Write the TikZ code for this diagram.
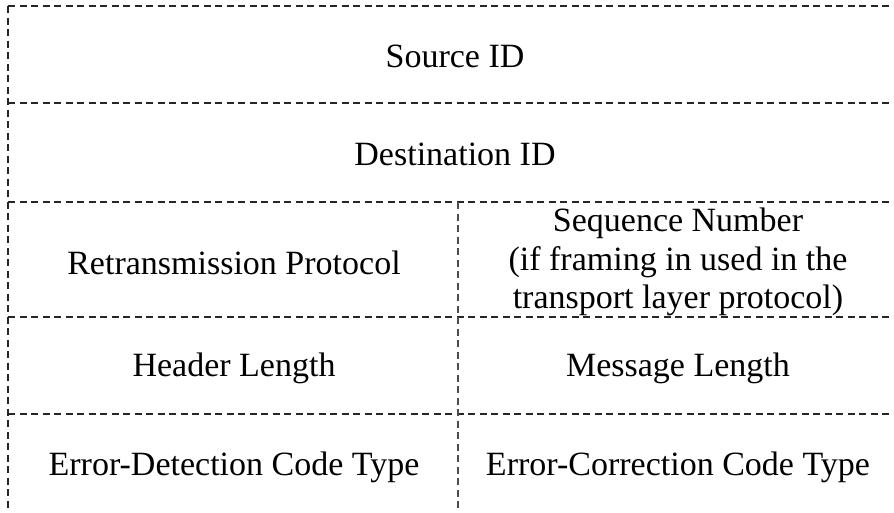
\documentclass[tikz,border=0pt]{standalone}
\usepackage{fontspec}
\setmainfont{Liberation Serif}
\begin{document}
\begin{tikzpicture}[x=1pt,y=-1pt,
  grid/.style={draw=black!85,line width=1.2pt,dash pattern=on 7pt off 4.5pt},
  field/.style={font=\fontsize{34}{38.5}\selectfont,align=center,inner sep=0pt}]
\useasboundingbox (0,0) rectangle (894,512);
% corner and junction points of the frame
\coordinate (tl) at (8,6);
\coordinate (tr) at (894,6);
\coordinate (bl) at (8,512);
\coordinate (l1) at (8,103);  \coordinate (r1) at (894,103);
\coordinate (l2) at (8,202);  \coordinate (r2) at (894,202);
\coordinate (l3) at (8,317);  \coordinate (r3) at (894,317);
\coordinate (l4) at (8,414);  \coordinate (r4) at (894,414);
\coordinate (mt) at (458,202); \coordinate (mb) at (458,512);
% dashed frame
\draw[grid] (tl) -- (tr);
\draw[grid] (tl) -- (bl);
\draw[grid] (l1) -- (r1);
\draw[grid] (l2) -- (r2);
\draw[grid] (l3) -- (r3);
\draw[grid] (l4) -- (r4);
\draw[grid,draw=black!70] (mt) -- (mb);
% field labels
\node[field] (src) at (455,56) {Source ID};
\node[field] (dst) at (455,154) {Destination ID};
\node[field] (retx) at (234,263) {Retransmission Protocol};
\node[field] (seq) at (678,262) {Sequence Number\\(if framing in used in the\\transport layer protocol)};
\node[field] (hlen) at (234,368) {Header Length};
\node[field] (mlen) at (678,368) {Message Length};
\node[field] (edc) at (234,467) {Error-Detection Code Type};
\node[field] (ecc) at (678,467) {Error-Correction Code Type};
\end{tikzpicture}
\end{document}
